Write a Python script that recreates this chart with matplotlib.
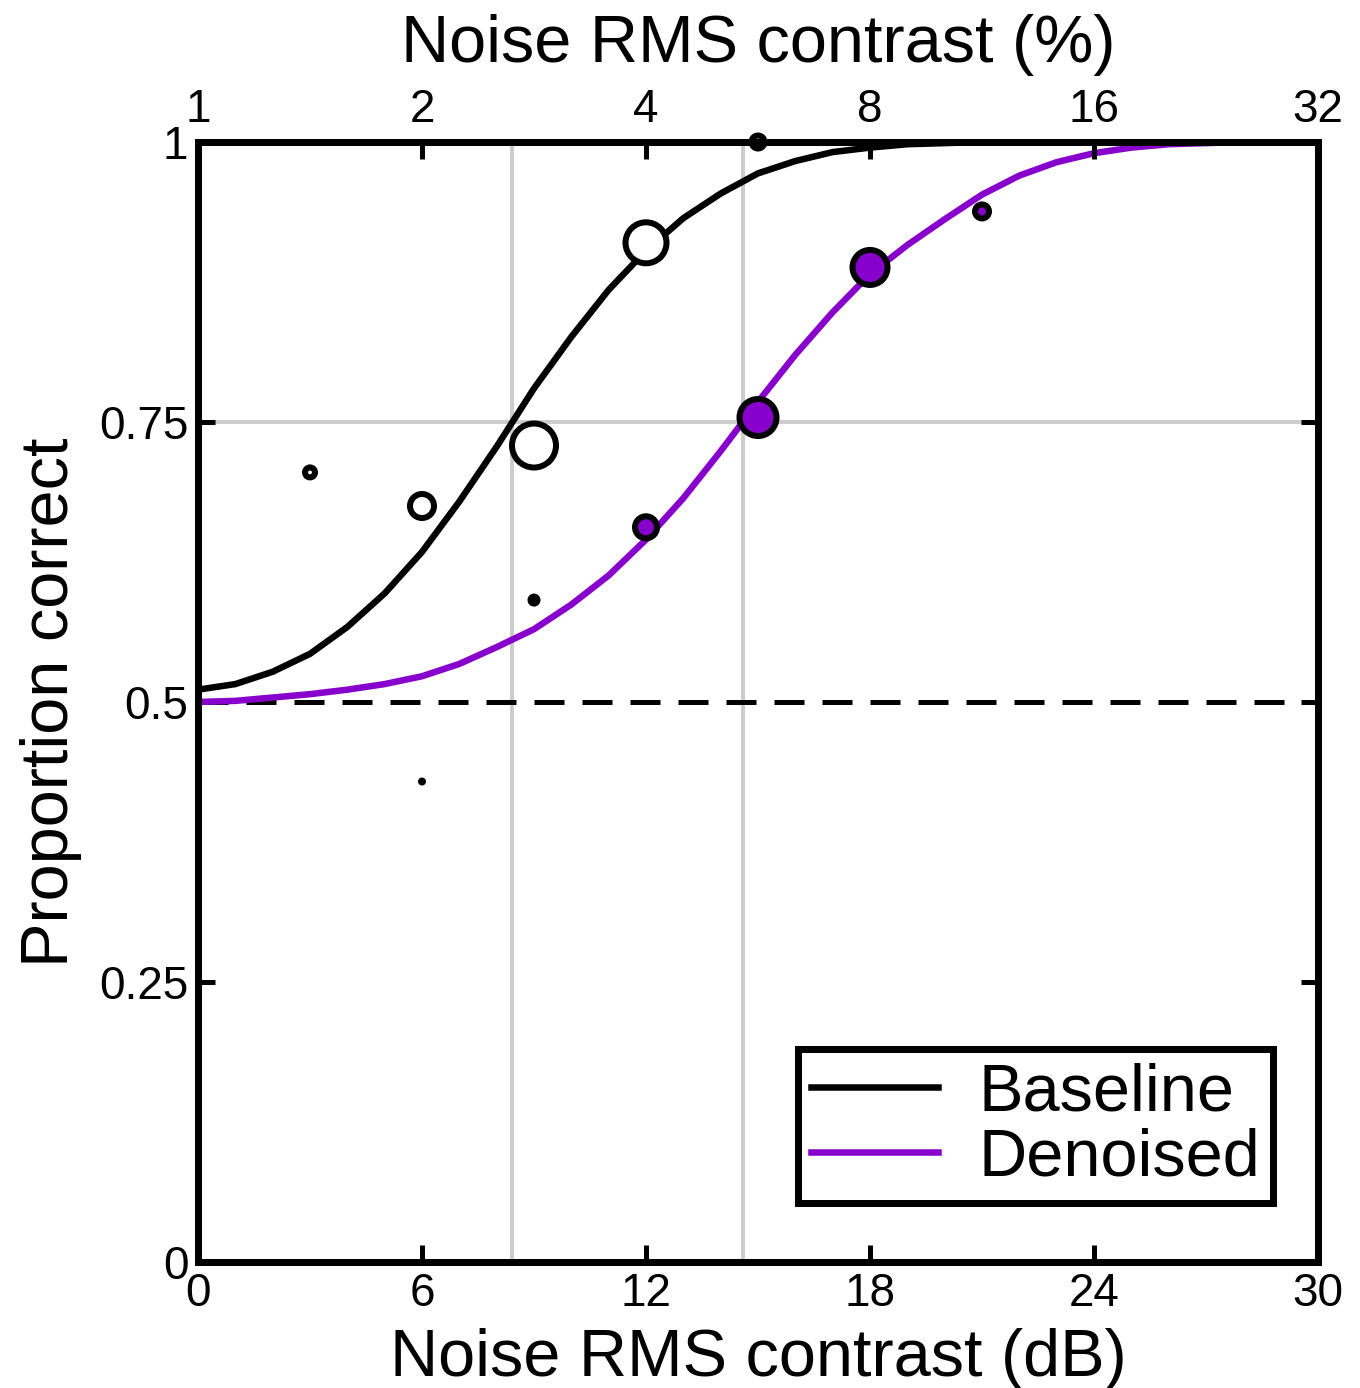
import matplotlib
matplotlib.use("Agg")
import matplotlib.pyplot as plt
import numpy as np

plt.rcParams['font.family'] = ['Liberation Sans', 'DejaVu Sans']

# Datos
db = np.arange(0, 31)
baseline_fit = [0.511, 0.516, 0.527, 0.543, 0.567, 0.597, 0.634, 0.679, 0.728, 0.780,
                0.826, 0.868, 0.903, 0.932, 0.954, 0.972, 0.983, 0.991, 0.995, 0.998,
                0.999, 1.0, 1.0, 1.0, 1.0, 1.0, 1.0, 1.0, 1.0, 1.0, 1.0]
denoised_fit = [0.500, 0.501, 0.504, 0.507, 0.511, 0.516, 0.523, 0.534, 0.549, 0.565,
                0.587, 0.613, 0.645, 0.682, 0.724, 0.768, 0.810, 0.848, 0.882, 0.908,
                0.931, 0.953, 0.970, 0.982, 0.990, 0.995, 0.998, 0.999, 1.0, 1.0, 1.0]

# Puntos medidos (tamaño del marcador ~ número de ensayos)
base_x = [3, 6, 9, 12, 15]
base_p = [0.705, 0.675, 0.729, 0.910, 1.0]
base_size = [16, 30, 50, 47, 19]

den_x = [6, 9, 12, 15, 18, 21]
den_p = [0.429, 0.591, 0.656, 0.754, 0.888, 0.938]
den_size = [8, 13, 28, 43, 41, 20]

thresholds = [8.4, 14.6]
pct_ticks = [1, 2, 4, 8, 16, 32]
y_ticks = [0, 0.25, 0.5, 0.75, 1]
y_labels = ['0', '0.25', '0.5', '0.75', '1']
db_ticks = [0, 6, 12, 18, 24, 30]

purple = '#8800cc'
px = 0.72  # puntos por pixel a dpi=100
edge_px = 6

fig = plt.figure(figsize=(13.6, 13.88), dpi=100)
ax = fig.add_axes([198 / 1360, 126 / 1388, 1120 / 1360, 1120 / 1388])

# líneas de referencia grises
for t in thresholds:
    ax.axvline(t, color='#cccccc', lw=4 * px, zorder=1)
ax.axhline(0.75, color='#cccccc', lw=4 * px, zorder=1)
# azar
ln, = ax.plot([0, 30], [0.5, 0.5], color='black', lw=5 * px, zorder=1.5)
ln.set_dashes([6.0, 3.6])

ax.plot(db, baseline_fit, color='black', lw=6.5 * px, zorder=2, label='Baseline')
ax.plot(db, denoised_fit, color=purple, lw=6.5 * px, zorder=2, label='Denoised')

def marker_style(sizes, face):
    # diámetro exterior en px -> tamaño scatter, borde y relleno
    s, lw, fc = [], [], []
    for d in sizes:
        if d < 2 * edge_px + 2:
            s.append((d * px) ** 2)
            lw.append(0)
            fc.append('black')
        else:
            s.append(((d - edge_px) * px) ** 2)
            lw.append(edge_px * px)
            fc.append(face)
    return s, lw, fc

s, lw, fc = marker_style(base_size, 'white')
ax.scatter(base_x, base_p, s=s, linewidths=lw, facecolor=fc,
           edgecolor='black', zorder=2.2, clip_on=False)
s, lw, fc = marker_style(den_size, purple)
ax.scatter(den_x, den_p, s=s, linewidths=lw, facecolor=fc,
           edgecolor='black', zorder=2.2, clip_on=False)

ax.set_xlim(0, 30)
ax.set_ylim(0, 1)
ax.set_xticks(db_ticks)
ax.set_xticklabels([str(t) for t in db_ticks])
ax.set_yticks(y_ticks)
ax.set_yticklabels(y_labels)
ax.tick_params(axis='both', which='both', direction='in', length=12, width=5 * px,
               labelsize=33, pad=7, top=False, right=True)
for sp in ax.spines.values():
    sp.set_linewidth(7 * px)

ax.set_xlabel('Noise RMS contrast (dB)', fontsize=48, labelpad=9)
ax.set_ylabel('Proportion correct', fontsize=48, labelpad=12)

# eje superior en % de contraste
ax2 = ax.twiny()
ax2.set_xlim(0, 30)
ax2.set_xticks(20 * np.log10(pct_ticks))
ax2.set_xticklabels([str(c) for c in pct_ticks])
ax2.tick_params(axis='x', direction='in', length=12, width=5 * px, labelsize=33, pad=7)
for sp in ax2.spines.values():
    sp.set_linewidth(7 * px)
ax2.set_xlabel('Noise RMS contrast (%)', fontsize=48, labelpad=19)

leg = ax.legend(loc='lower right', bbox_to_anchor=(0.96, 0.0527), borderaxespad=0,
                fontsize=48, handlelength=1.9, handletextpad=0.6, labelspacing=0.05,
                borderpad=0.2, fancybox=False, framealpha=1, edgecolor='black')
leg.get_frame().set_linewidth(7 * px)

fig.savefig('out.png', dpi=100)
